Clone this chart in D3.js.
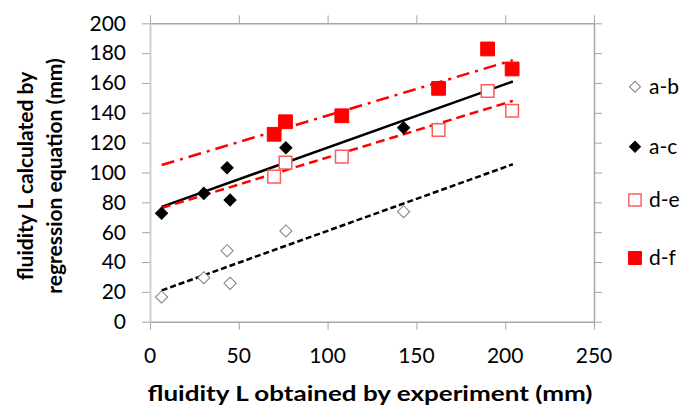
<!DOCTYPE html>
<html><head><meta charset="utf-8">
<script src="https://cdn.jsdelivr.net/npm/d3@7"></script>
<style>
html,body{margin:0;padding:0;background:#fff;}
svg{display:block;}
text{font-family:Lato,"Open Sans",sans-serif;fill:#000;}
</style></head>
<body>
<svg id="chart" width="683" height="410"></svg>
<script>
// ---- data ----
const seriesNames = ["a-b", "a-c", "d-e", "d-f"];
const xA  = [6.5, 30.3, 43.4, 45.1, 76.5, 142.8];
const yAB = [16.6, 29.5, 47.6, 25.7, 60.8, 73.7];
const yAC = [72.7, 86.0, 103.2, 81.6, 116.6, 130.0];
const xD  = [69.9, 76.3, 108.0, 162.5, 190.1, 203.9];
const yDE = [97.2, 106.6, 110.6, 128.5, 154.6, 141.4];
const yDF = [125.6, 134.0, 138.0, 156.4, 182.8, 169.4];
// trend lines (start, end)
const trendX  = [6.6, 204.3];
const trendAB = [21.0, 105.5];
const trendAC = [77.0, 161.0];
const trendDE = [76.2, 148.0];
const trendDF = [105.0, 175.3];
const xTicks = [0, 50, 100, 150, 200, 250];
const yTicks = [0, 20, 40, 60, 80, 100, 120, 140, 160, 180, 200];
const xTitle = "fluidity L obtained by experiment (mm)";
const yTitle1 = "fluidity L calculated by";
const yTitle2 = "regression equation (mm)";

const svg = d3.select("#chart");
const x = d3.scaleLinear().domain([0, 250]).range([150, 594]);
const y = d3.scaleLinear().domain([0, 200]).range([321.7, 23.3]);
const axisColor = "#a6a6a6";

// frame axes
function styleAxis(g, color, w) {
  g.select(".domain").attr("stroke", color).attr("stroke-width", w);
  g.selectAll(".tick line").attr("stroke", axisColor).attr("stroke-width", 1);
}
const gB = svg.append("g").attr("transform", `translate(0,${y(0)})`)
  .call(d3.axisBottom(x).tickValues(xTicks).tickSize(8).tickSizeOuter(0).tickFormat(""));
styleAxis(gB, axisColor, 1.5);
const gT = svg.append("g").attr("transform", `translate(0,${y(200)})`)
  .call(d3.axisTop(x).tickValues(xTicks).tickSize(8).tickSizeOuter(0).tickFormat(""));
styleAxis(gT, axisColor, 1.5);
const gL = svg.append("g").attr("transform", `translate(${x(0)},0)`)
  .call(d3.axisLeft(y).tickValues(yTicks).tickSize(8).tickSizeOuter(0).tickFormat(""));
styleAxis(gL, "#cfcfcf", 2);
const gR = svg.append("g").attr("transform", `translate(${x(250)},0)`)
  .call(d3.axisRight(y).tickValues(yTicks).tickSize(8).tickSizeOuter(0).tickFormat(""));
styleAxis(gR, axisColor, 1.5);

// tick labels
svg.append("g").selectAll("text").data(xTicks).join("text")
  .attr("x", d => x(d)).attr("y", 363).attr("text-anchor", "middle")
  .attr("font-size", 21).text(d => d);
svg.append("g").selectAll("text").data(yTicks).join("text")
  .attr("x", 126).attr("y", d => y(d)).attr("dy", "0.35em").attr("text-anchor", "end")
  .attr("font-size", 21).text(d => d);

// titles
svg.append("text").attr("x", 370).attr("y", 401).attr("text-anchor", "middle")
  .attr("font-size", 21).attr("font-weight", "bold")
  .attr("textLength", 445).attr("lengthAdjust", "spacingAndGlyphs").text(xTitle);
svg.append("text").attr("transform", "translate(33,176) rotate(-90)").attr("text-anchor", "middle")
  .attr("font-size", 21).attr("font-weight", "bold").text(yTitle1);
svg.append("text").attr("transform", "translate(62,176) rotate(-90)").attr("text-anchor", "middle")
  .attr("font-size", 21).attr("font-weight", "bold").text(yTitle2);

// trend lines
const trends = [
  {ys: trendAB, color: "#000", dash: "6,3"},
  {ys: trendAC, color: "#000", dash: null},
  {ys: trendDE, color: "#ff0000", dash: "9,5"},
  {ys: trendDF, color: "#ff0000", dash: "13,6,3,6"}
];
const line = d3.line().x(d => x(d[0])).y(d => y(d[1]));
trends.forEach(t => {
  svg.append("path").datum(trendX.map((v, i) => [v, t.ys[i]]))
    .attr("d", line).attr("fill", "none").attr("stroke", t.color)
    .attr("stroke-width", 2.5).attr("stroke-dasharray", t.dash);
});

// markers
const diamond = d3.symbol().type(d3.symbolSquare).size(74)();
const square = d3.symbol().type(d3.symbolSquare).size(190)();
const squareOpen = d3.symbol().type(d3.symbolSquare).size(160)();
const series = [
  {xs: xA, ys: yAB, path: diamond, rot: 45, fill: "#fff", stroke: "#7f7f7f", sw: 1},
  {xs: xA, ys: yAC, path: diamond, rot: 45, fill: "#000", stroke: "#000", sw: 1},
  {xs: xD, ys: yDE, path: squareOpen, rot: 0, fill: "#fff", stroke: "#ff5b5b", sw: 1.5},
  {xs: xD, ys: yDF, path: square, rot: 0, fill: "#ff0000", stroke: "#ff0000", sw: 1}
];
series.forEach(s => {
  svg.append("g").selectAll("path").data(s.xs.map((v, i) => [v, s.ys[i]])).join("path")
    .attr("d", s.path)
    .attr("transform", d => `translate(${x(d[0])},${y(d[1])}) rotate(${s.rot})`)
    .attr("fill", s.fill).attr("stroke", s.stroke).attr("stroke-width", s.sw);
});

// legend
const legY = [86.7, 146.7, 200, 258];
const legendMarkers = [
  {path: d3.symbol().type(d3.symbolSquare).size(60)(), rot: 45, fill: "#fff", stroke: "#7f7f7f", sw: 1},
  {path: d3.symbol().type(d3.symbolSquare).size(60)(), rot: 45, fill: "#000", stroke: "#000", sw: 1},
  {path: d3.symbol().type(d3.symbolSquare).size(150)(), rot: 0, fill: "#fff", stroke: "#ff5b5b", sw: 1.5},
  {path: d3.symbol().type(d3.symbolSquare).size(170)(), rot: 0, fill: "#ff0000", stroke: "#ff0000", sw: 1}
];
const leg = svg.append("g").selectAll("g").data(seriesNames).join("g")
  .attr("transform", (d, i) => `translate(0,${legY[i]})`);
leg.append("path").attr("d", (d, i) => legendMarkers[i].path)
  .attr("transform", (d, i) => `translate(635,0) rotate(${legendMarkers[i].rot})`)
  .attr("fill", (d, i) => legendMarkers[i].fill).attr("stroke", (d, i) => legendMarkers[i].stroke)
  .attr("stroke-width", (d, i) => legendMarkers[i].sw);
leg.append("text").attr("x", 649).attr("dy", "0.35em").attr("font-size", 21).text(d => d);
</script>
</body></html>
